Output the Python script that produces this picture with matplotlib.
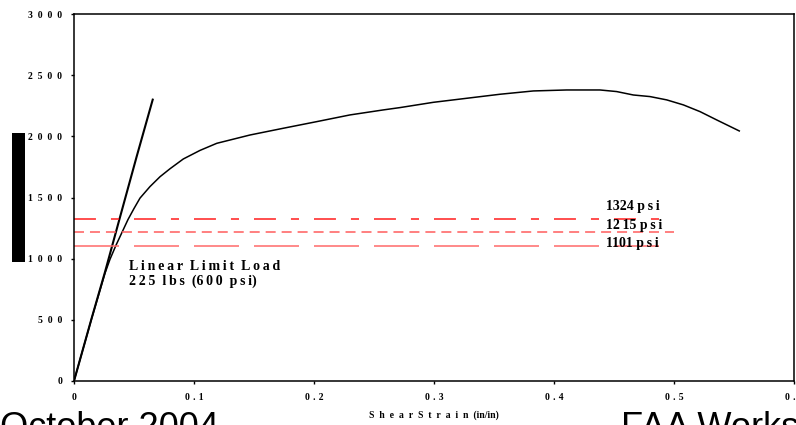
import matplotlib
matplotlib.use("Agg")
import matplotlib.pyplot as plt
from matplotlib.patches import Rectangle

# Linear (elastic) response of the panel
strain_linear = [0.0, 0.0147, 0.0258, 0.0378, 0.0522, 0.0656]
stress_linear = [0, 513, 890, 1320, 1834, 2300]

# Measured shear stress–strain response
strain_test = [0.0, 0.0147, 0.0258, 0.030, 0.035, 0.040, 0.045, 0.050, 0.055,
               0.0633, 0.0717, 0.08, 0.0911, 0.105, 0.119, 0.1467, 0.1744,
               0.2022, 0.23, 0.2578, 0.2717, 0.2994, 0.3272, 0.355, 0.3828,
               0.4106, 0.4383, 0.4522, 0.4661, 0.48, 0.4939, 0.5078, 0.5217,
               0.5356, 0.5544]
stress_test = [0, 510, 880, 995, 1110, 1215, 1320, 1410, 1495,
               1589, 1670, 1735, 1815, 1885, 1943, 2011, 2066,
               2120, 2175, 2216, 2235, 2278, 2311, 2344, 2371,
               2379, 2379, 2366, 2338, 2325, 2298, 2257, 2202,
               2134, 2044]

# Horizontal reference stress levels
ref_levels = [1324, 1215, 1101]
ref_labels = ["1324 p\u2009s\u2009i", "12\u200915 p\u2009s\u2009i", "1101 p\u2009s\u2009i"]
ref_label_y = [1423, 1268, 1121]
ref_xmax = 0.5

x_ticks = [0.0, 0.1, 0.2, 0.3, 0.4, 0.5, 0.6]
y_ticks = [0, 500, 1000, 1500, 2000, 2500, 3000]

plt.rcParams["lines.scale_dashes"] = False
serif = ["Liberation Serif", "DejaVu Serif"]

fig = plt.figure(figsize=(7.96, 4.25), dpi=100)
ax = fig.add_axes([74 / 796, 44 / 425, 720 / 796, 367 / 425])

ax.plot(strain_linear, stress_linear, color="black", lw=1.5)
ax.plot(strain_test, stress_test, color="black", lw=1.1)

ref_styles = [
    dict(color="#ff1e1e", dashes=[15.8, 10.8, 5.8, 10.8]),
    dict(color="#ff5c5c", dashes=[7.2, 4.3]),
    dict(color="#ff6a6a", dashes=[32.4, 10.8]),
]
for lvl, st in zip(ref_levels, ref_styles):
    ax.plot([0, ref_xmax], [lvl, lvl], lw=1.1, **st)

for lab, ly in zip(ref_labels, ref_label_y):
    ax.text(0.4435, ly, lab, fontsize=10, fontweight="bold", family=serif,
            va="center", ha="left")

ax.text(0.046, 990, "L\u2009i\u2009n\u2009e\u2009a\u2009r  L\u2009i\u2009m\u2009i\u2009t  L\u2009o\u2009a\u2009d\n"
        "2\u20092\u20095  l\u2009b\u2009s  (6\u20090\u20090  p\u2009s\u2009i)",
        fontsize=10, fontweight="bold", family=serif, va="top", ha="left",
        linespacing=1.15)

ax.set_xlim(0, 0.6)
ax.set_ylim(0, 3000)
ax.set_xticks(x_ticks)
ax.set_yticks(y_ticks)
ax.set_xticklabels(["0"] + ["\u2004".join(f"{v:.1f}") for v in x_ticks[1:]])
ax.set_yticklabels(["\u2002".join(str(v)) for v in y_ticks])
for lab in ax.get_xticklabels() + ax.get_yticklabels():
    lab.set_fontfamily(serif)
    lab.set_fontweight("bold")
    lab.set_fontsize(7)
ax.tick_params(direction="out", length=2.5, width=1, pad=6)
for sp in ax.spines.values():
    sp.set_linewidth(1.1)

ax.set_xlabel("S\u2002h\u2002e\u2002a\u2002r  S\u2002t\u2002r\u2002a\u2002i\u2002n  (in/in)",
              fontsize=7, fontweight="bold", family=serif, labelpad=6)

# Vertical bar at the left edge
fig.add_artist(Rectangle((12 / 796, (425 - 262) / 425), 13 / 796, 129 / 425,
                         transform=fig.transFigure, color="black", lw=0))

fig.text(0.0, -0.03, "October 2004", fontsize=26, family="Liberation Sans",
         va="baseline", ha="left")
fig.text(621 / 796, -0.03, "FAA Workshop", fontsize=26, family="Liberation Sans",
         va="baseline", ha="left")

fig.savefig("out.png", dpi=100)
